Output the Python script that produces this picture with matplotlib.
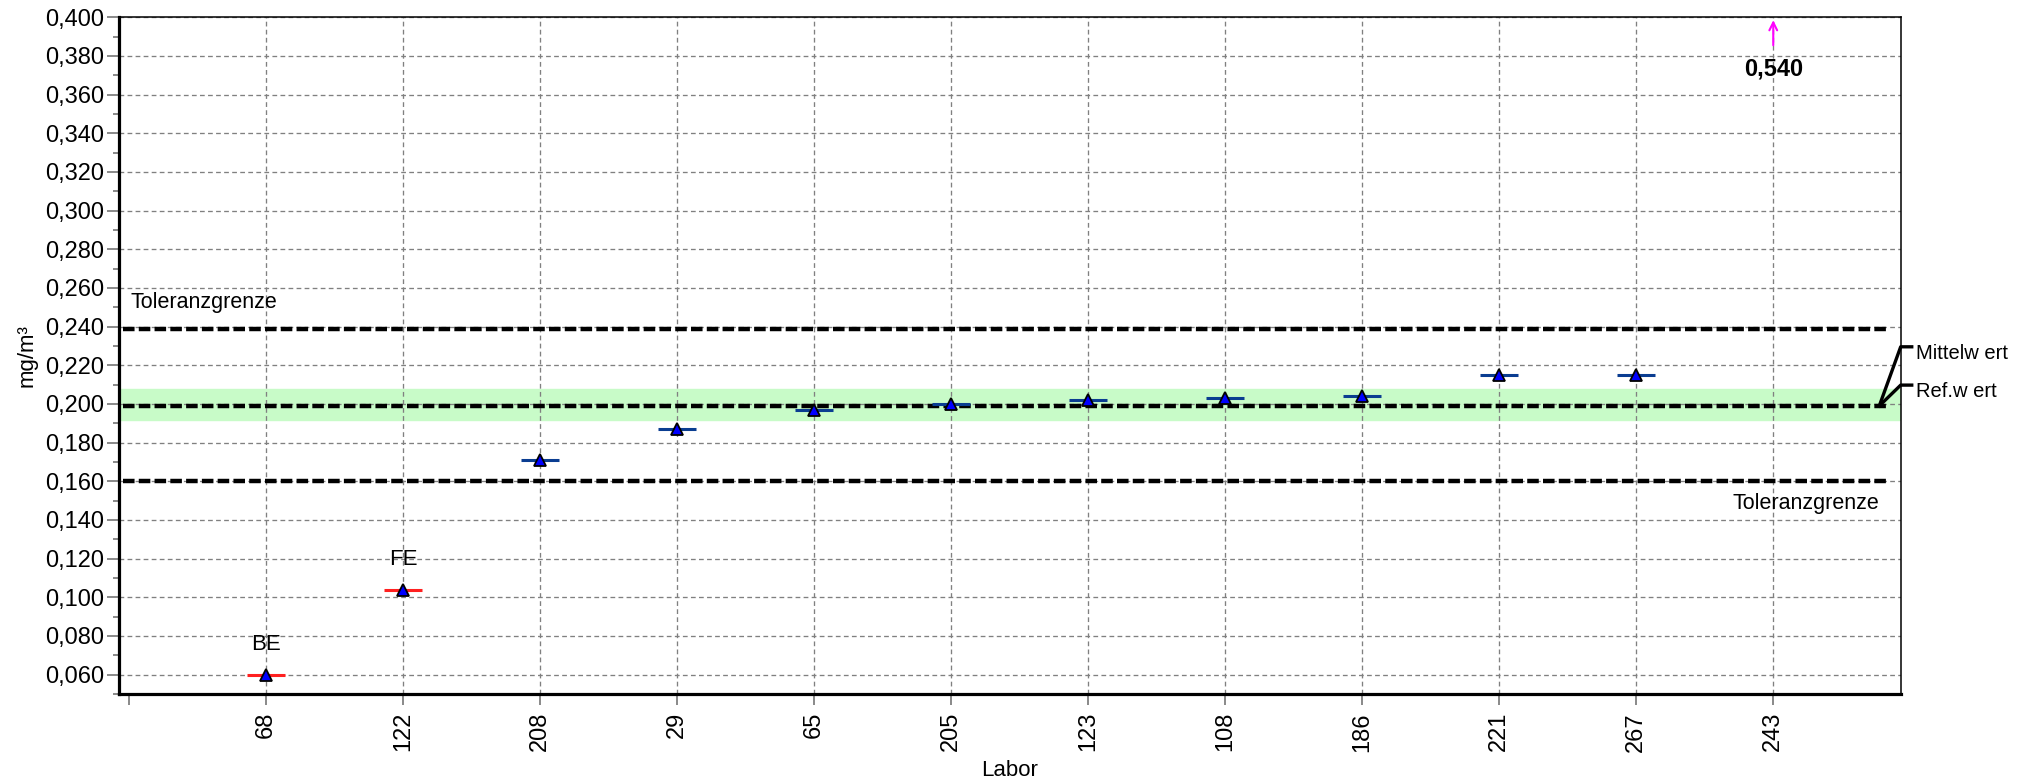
import matplotlib
matplotlib.use("Agg")
import matplotlib.pyplot as plt
from matplotlib.ticker import FuncFormatter, MultipleLocator
import numpy as np

plt.rcParams['font.family'] = ['Liberation Sans', 'DejaVu Sans']

# --- Daten ---
labore = ["68", "122", "208", "29", "65", "205", "123", "108", "186", "221", "267", "243"]
werte = [0.060, 0.104, 0.171, 0.187, 0.197, 0.200, 0.202, 0.203, 0.204, 0.215, 0.215, 0.540]
bewertung = ["BE", "FE", "", "", "", "", "", "", "", "", "", ""]

ref_wert = 0.199
mittelwert = 0.199
tol_oben = 0.239
tol_unten = 0.160
band_unten = 0.1915
band_oben = 0.2077

y_min, y_max = 0.05, 0.40


def komma(v, pos=None):
    return f"{v:.3f}".replace(".", ",")


fig = plt.figure(figsize=(20.35, 7.83), dpi=100)
ax = fig.add_axes([0.0585, 0.1137, 0.8755, 0.8643])

pos = np.arange(1, len(labore) + 1)
ax.set_xlim(-0.073, 12.93)
ax.set_ylim(y_min, y_max)

# Band um den Referenzwert
ax.axhspan(band_unten, band_oben, color="#c8fbc8", zorder=0)

# Gitter
ax.grid(True, which="major", color="#808080", linestyle=(0, (3.6, 2.5)), linewidth=0.95, zorder=1)

# Toleranzgrenzen und Referenzwert
for yv in (tol_oben, ref_wert, tol_unten):
    ax.axhline(yv, xmin=0.002, xmax=0.9927, color="black", linestyle=(0, (2.6, 0.95)),
               linewidth=3.2, zorder=3)

ax.annotate("Toleranzgrenze", xy=(0.0067, tol_oben), xycoords=("axes fraction", "data"),
            xytext=(0, 19), textcoords="offset points", ha="left", va="center", fontsize=15.5)
ax.annotate("Toleranzgrenze", xy=(0.9877, tol_unten), xycoords=("axes fraction", "data"),
            xytext=(0, -16), textcoords="offset points", ha="right", va="center", fontsize=15.5)

# Messwerte
for p, w, b in zip(pos, werte, bewertung):
    if w > y_max:
        # Wert ausserhalb der Skala: Pfeil nach oben
        ax.annotate("", xy=(p, 0.9956), xycoords=("data", "axes fraction"),
                    xytext=(p, 0.9586), textcoords=("data", "axes fraction"),
                    arrowprops=dict(arrowstyle="->", color="#ff00ff", lw=1.5,
                                    mutation_scale=14, shrinkA=0, shrinkB=0),
                    annotation_clip=False)
        ax.annotate(komma(w), xy=(p, 0.9586), xycoords=("data", "axes fraction"),
                    xytext=(0, -17), textcoords="offset points", ha="center", va="center",
                    fontsize=17, fontweight="bold")
        continue
    farbe = "#ff2020" if b else "#0a3d91"
    ax.hlines(w, p - 0.14, p + 0.14, color=farbe, linewidth=2.2, zorder=4)
    ax.plot(p, w, marker="^", markersize=8, markerfacecolor="#0000ff",
            markeredgecolor="black", markeredgewidth=1.3, linestyle="none", zorder=5)
    if b:
        ax.annotate(b, xy=(p, w), xytext=(0, 22), textcoords="offset points",
                    ha="center", va="center", fontsize=16)

# Beschriftung Mittelwert / Ref.wert rechts
yf = (ref_wert - y_min) / (y_max - y_min)
yf_m = (mittelwert - y_min) / (y_max - y_min)
for start_y, ende_y, text in ((yf_m, 0.513, "Mittelw ert"), (yf, 0.4564, "Ref.w ert")):
    ax.plot([0.988, 1.0, 1.0062], [start_y, ende_y, ende_y], color="black", linewidth=2.4,
            transform=ax.transAxes, clip_on=False, zorder=6)
    ax.text(1.0087, ende_y - 0.01, text, transform=ax.transAxes, ha="left", va="center",
            fontsize=14.5)

# Achsen
ax.set_xticks(pos)
ax.set_xticklabels(labore, rotation=90, fontsize=17)
ax.set_xticks([0], minor=True)
ax.yaxis.set_major_locator(MultipleLocator(0.02))
ax.yaxis.set_minor_locator(MultipleLocator(0.01))
ax.yaxis.set_major_formatter(FuncFormatter(komma))
ax.tick_params(axis="y", which="major", labelsize=17, length=9, width=1.3, color="#808080", pad=2)
ax.tick_params(axis="y", which="minor", length=4, width=1.3, color="#808080")
ax.tick_params(axis="x", which="both", length=8, width=1.3, color="#808080", pad=5)

ax.set_xlabel("Labor", fontsize=16, labelpad=6)
ax.set_ylabel("mg/m³", fontsize=16, labelpad=5)

for s in ("left", "bottom"):
    ax.spines[s].set_linewidth(2.3)
for s in ("top", "right"):
    ax.spines[s].set_linewidth(1.1)

fig.savefig("out.png", dpi=100)
